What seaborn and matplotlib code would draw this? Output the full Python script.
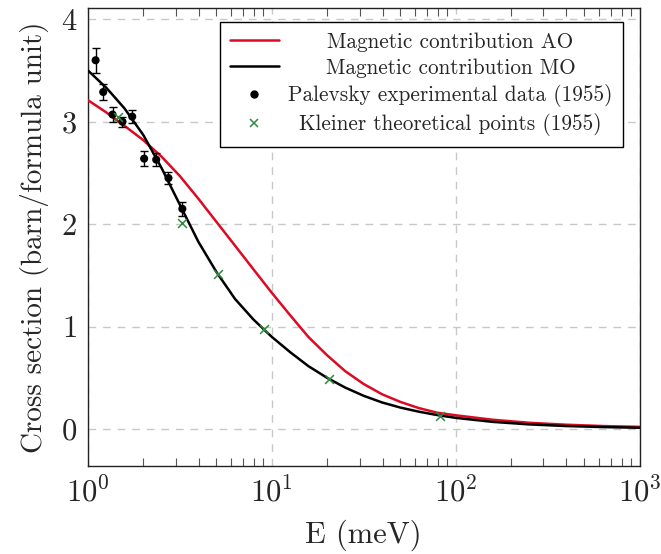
import numpy as np
import pandas as pd
import matplotlib
matplotlib.use("Agg")
import matplotlib.pyplot as plt
import seaborn as sns
from matplotlib.lines import Line2D
from matplotlib.ticker import LogLocator, NullFormatter

# ---- data ----
ao_E = [1.0, 1.26, 1.58, 2.0, 2.51, 3.16, 3.98, 5.01, 6.31, 7.94, 10.0, 12.6,
        15.8, 20.0, 25.1, 31.6, 39.8, 50.1, 63.1, 79.4, 100, 158, 251, 398, 631, 1000]
ao_sigma = [3.21, 3.09, 2.96, 2.82, 2.66, 2.47, 2.25, 2.02, 1.79, 1.56, 1.33, 1.11,
            0.90, 0.72, 0.565, 0.44, 0.34, 0.265, 0.205, 0.16, 0.135, 0.092, 0.062,
            0.043, 0.030, 0.022]

mo_E = [1.0, 1.26, 1.58, 2.0, 2.51, 3.16, 3.98, 5.01, 6.31, 7.94, 10.0, 12.6,
        15.8, 20.0, 25.1, 31.6, 39.8, 50.1, 63.1, 79.4, 100, 158, 251, 398, 631, 1000]
mo_sigma = [3.50, 3.33, 3.13, 2.87, 2.55, 2.19, 1.83, 1.53, 1.27, 1.07, 0.90, 0.75,
            0.615, 0.50, 0.405, 0.325, 0.26, 0.21, 0.17, 0.137, 0.11, 0.071, 0.046,
            0.030, 0.020, 0.013]

pal_E = [1.10, 1.21, 1.36, 1.54, 1.74, 2.02, 2.35, 2.74, 3.26]
pal_sigma = [3.60, 3.29, 3.07, 3.00, 3.05, 2.64, 2.63, 2.45, 2.15]
pal_err = [0.12, 0.08, 0.07, 0.05, 0.06, 0.07, 0.06, 0.06, 0.07]

kl_E = [1.45, 3.26, 5.12, 9.12, 20.5, 82.5]
kl_sigma = [3.05, 2.01, 1.51, 0.976, 0.49, 0.13]

labels = ["Magnetic contribution AO", "Magnetic contribution MO",
          "Palevsky experimental data (1955)", "Kleiner theoretical points (1955)"]

RED = "#dc0a23"
GREEN = "#2e8b3f"

# ---- style ----
sns.set_style("ticks")
plt.rcParams["font.family"] = ["cmr10", "DejaVu Serif"]
plt.rcParams["mathtext.fontset"] = "cm"
plt.rcParams["axes.formatter.use_mathtext"] = True
plt.rcParams["axes.unicode_minus"] = False

fig = plt.figure(figsize=(6.61, 5.54), dpi=100)
ax = fig.add_axes([88 / 661, 1 - 466 / 554, (639.5 - 88) / 661, (466 - 8) / 554])

df_ao = pd.DataFrame({"E": ao_E, "s": ao_sigma})
df_mo = pd.DataFrame({"E": mo_E, "s": mo_sigma})
df_pal = pd.DataFrame({"E": pal_E, "s": pal_sigma, "err": pal_err})
df_kl = pd.DataFrame({"E": kl_E, "s": kl_sigma})

sns.lineplot(data=df_ao, x="E", y="s", ax=ax, color=RED, lw=1.8, zorder=3)
sns.lineplot(data=df_mo, x="E", y="s", ax=ax, color="black", lw=1.8, zorder=3)
ax.errorbar(df_pal["E"], df_pal["s"], yerr=df_pal["err"], fmt="none",
            ecolor="black", elinewidth=1.0, capsize=2.6, capthick=1.0, zorder=4)
sns.scatterplot(data=df_pal, x="E", y="s", ax=ax, color="black", s=34,
                edgecolor="none", zorder=5)
sns.scatterplot(data=df_kl, x="E", y="s", ax=ax, color=GREEN, marker="x", s=40,
                linewidth=1.1, zorder=5)

ax.set_xscale("log")
ax.set_xlim(1, 1000)
ax.set_ylim(-0.36, 4.11)
ax.set_yticks([0, 1, 2, 3, 4])
ax.xaxis.set_minor_locator(LogLocator(base=10, subs=np.arange(2, 10)))
ax.xaxis.set_minor_formatter(NullFormatter())

ax.grid(True, which="major", ls=(0, (5.5, 5)), color="#c8c8c8", lw=1.0)
ax.tick_params(which="both", direction="in", top=True, right=True,
               labelsize=22, width=0.8, color="#555555")
ax.tick_params(axis="x", which="major", length=0, pad=8)
ax.tick_params(axis="y", which="major", length=0, pad=8)
ax.tick_params(which="minor", length=6)
for sp in ax.spines.values():
    sp.set_linewidth(1.0)
    sp.set_color("#222222")

ax.set_xlabel("E (meV)", fontsize=22, labelpad=8)
ax.set_ylabel("Cross section (barn/formula unit)", fontsize=21, labelpad=8)

handles = [
    Line2D([], [], color=RED, lw=1.8),
    Line2D([], [], color="black", lw=1.8),
    Line2D([], [], color="black", marker="o", ls="none", markersize=5),
    Line2D([], [], color=GREEN, marker="x", ls="none", markersize=5.5, mew=1.1),
]
leg = ax.legend(handles, labels, loc="upper right", bbox_to_anchor=(0.970, 0.9694),
                fontsize=15.3, frameon=True, fancybox=False, edgecolor="black",
                framealpha=1, handlelength=2.3, handletextpad=0.45,
                labelspacing=0.3, borderpad=0.48, borderaxespad=0)
leg.get_frame().set_linewidth(1.0)

# center the legend texts in their column (pgfplots style)
fig.canvas.draw()
texts = leg.get_texts()
widths = [t.get_window_extent().width for t in texts]
wmax = max(widths)
for t, w in zip(texts, widths):
    t.set_x((wmax - w) / 2)

fig.savefig("out.png", dpi=100)
